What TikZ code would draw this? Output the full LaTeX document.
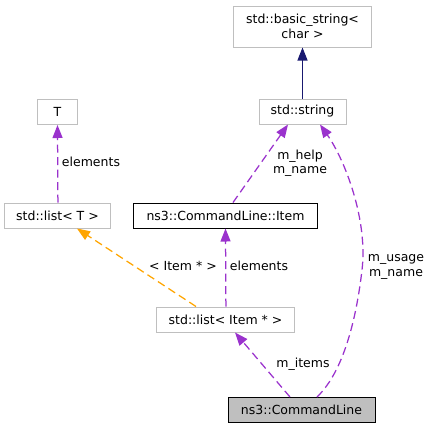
\documentclass[tikz,border=0pt]{standalone}
\usepackage{fontspec}
\setmainfont{DejaVu Sans}
\usetikzlibrary{arrows.meta}
\definecolor{purp}{HTML}{9A32CD}
\definecolor{orng}{HTML}{FFA500}
\definecolor{navyc}{HTML}{191970}
\definecolor{boxgray}{HTML}{BFBFBF}
\begin{document}
\begin{tikzpicture}[x=1pt,y=-1pt,
  every node/.style={font=\fontsize{12.5}{14.5}\selectfont},
  gbox/.style={draw=boxgray,line width=1pt,fill=white,inner sep=0pt,align=center},
  bbox/.style={draw=black,line width=1pt,fill=white,inner sep=0pt,align=center},
  cbox/.style={draw=black,line width=1pt,fill=boxgray,inner sep=0pt,align=center},
  purpline/.style={draw=purp,line width=1.25pt,dash pattern=on 8pt off 4.5pt,-{Triangle[length=13pt,width=10pt]}},
  orngline/.style={draw=orng,line width=1.25pt,dash pattern=on 8pt off 4.5pt,-{Triangle[length=13pt,width=10pt]}},
  navyline/.style={draw=navyc,line width=1.1pt,-{Triangle[length=13pt,width=10pt]}},
  lbl/.style={inner sep=0pt,align=center}]
\useasboundingbox (0,0) rectangle (433,429);
% nodes
\node[gbox,minimum width=138pt,minimum height=41pt] (bstr) at (302.5,26.5) {std::basic\_string<\\char >};
\node[gbox,minimum width=87pt,minimum height=25pt] (string) at (302.5,111.5) {std::string};
\node[gbox,minimum width=40pt,minimum height=25pt] (T) at (57.5,112) {T};
\node[gbox,minimum width=106pt,minimum height=25pt] (listT) at (57.5,215.5) {std::list< T >};
\node[bbox,minimum width=184pt,minimum height=25pt] (Item) at (225.5,215.5) {ns3::CommandLine::Item};
\node[gbox,minimum width=138pt,minimum height=25pt] (listItem) at (225.5,319.5) {std::list< Item * >};
\node[cbox,minimum width=147pt,minimum height=25pt] (Cmd) at (301.5,410) {ns3::CommandLine};
% connectors
\draw[navyline] (string.north) -- (bstr.south);
\draw[purpline] ([xshift=7.5pt]Item.north) -- ([xshift=-14.5pt]string.south);
\draw[purpline] ([xshift=15.5pt]Cmd.north) .. controls (340,375) and (355,330) .. (362,270)
   .. controls (368,220) and (345,160) .. ([xshift=17.5pt]string.south);
\draw[purpline] ([xshift=0.4pt]listT.north) -- (T.south);
\draw[orngline] ([xshift=-29.5pt]listItem.north) -- ([xshift=19.5pt]listT.south);
\draw[purpline] ([xshift=0.4pt]listItem.north) -- (Item.south);
\draw[purpline] ([xshift=-11.5pt]Cmd.north) -- ([xshift=9.5pt]listItem.south);
% labels
\node[lbl] (l1) at (91,162) {elements};
\node[lbl] (l2) at (300,163) {m\_help\\m\_name};
\node[lbl] (l3) at (183,266) {< Item * >};
\node[lbl] (l4) at (259,266) {elements};
\node[lbl] (l5) at (396,267) {m\_usage\\m\_name};
\node[lbl] (l6) at (303,364) {m\_items};
\end{tikzpicture}
\end{document}
